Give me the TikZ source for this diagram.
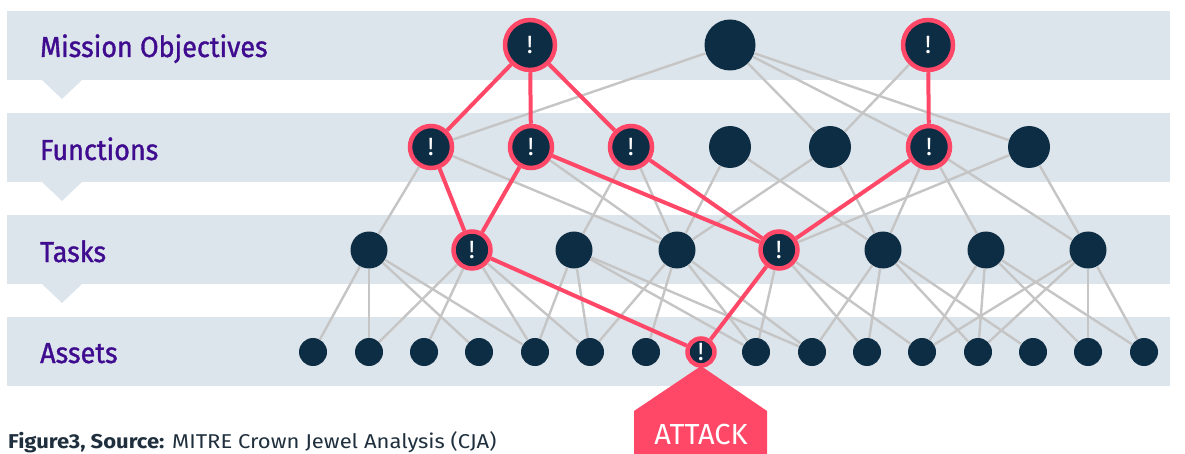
\documentclass[tikz,border=0pt]{standalone}
\usepackage{fontspec}
\setmainfont{Fira Sans}
\newfontfamily\levelfont[FakeStretch=0.93, FakeBold=1.2]{Fira Sans}
\newfontfamily\captionfont[FakeStretch=1.1]{Fira Sans}
\definecolor{bandc}{HTML}{DDE5EC}
\definecolor{nodec}{HTML}{0D2D45}
\definecolor{alertred}{HTML}{FF4868}
\definecolor{edgegray}{HTML}{C5C5C5}
\definecolor{levelpurple}{HTML}{3F0C8F}
\definecolor{captionc}{HTML}{1F2F3D}
\tikzset{
  band/.style={fill=bandc, draw=none},
  level/.style={anchor=base west, inner sep=0pt, text=levelpurple,
    font=\levelfont\fontsize{29}{30}\selectfont},
  dot/.style={circle, fill=nodec, draw=none, inner sep=0pt, text=white,
    font=\fontsize{25}{25}\selectfont},
  mdot/.style={dot, minimum size=50pt},
  fdot/.style={dot, minimum size=42pt},
  tdot/.style={dot, minimum size=37pt},
  adot/.style={dot, minimum size=28pt},
  alert/.style={draw=alertred, line width=4.5pt},
  link/.style={draw=edgegray, line width=2.4pt},
  hot/.style={draw=alertred, line width=4pt},
}
\begin{document}
\begin{tikzpicture}[x=1pt, y=-1pt]
\useasboundingbox (0,0) rectangle (1185,454);

% level bands with their pointers
\foreach \top in {11,113,215,317} {
  \fill[bandc] (7,\top) rectangle (1170,\top+69);
}
\foreach \bot in {80,182,284} {
  \fill[bandc] (42,\bot) -- (82,\bot) -- (62,\bot+19) -- cycle;
}

% level names
\node[level] (lmo) at (40,57) {Mission Objectives};
\node[level] (lfn) at (40,160) {Functions};
\node[level] (ltk) at (40,262) {Tasks};
\node[level] (las) at (40,363) {Assets};

% attack marker
\fill[alertred] (701,366) -- (767,411) -- (767,454) -- (634,454) -- (634,411) -- cycle;
\node[text=white, font=\fontsize{29}{30}\selectfont, anchor=base] (atk) at (701,444) {ATTACK};

% mission objectives
\node[mdot, alert] (m1) at (530,45) {!};
\node[mdot, minimum size=51pt] (m2) at (730,45) {};
\node[mdot, alert] (m3) at (928,45) {!};

% functions
\node[fdot, alert] (f1) at (431,147) {!};
\node[fdot, alert] (f2) at (531,147) {!};
\node[fdot, alert] (f3) at (631,147) {!};
\node[fdot] (f4) at (730,147) {};
\node[fdot] (f5) at (830,147) {};
\node[fdot, alert] (f6) at (929,147) {!};
\node[fdot] (f7) at (1029,147) {};

% tasks
\node[tdot] (t1) at (369,250) {};
\node[tdot, alert] (t2) at (472,250) {!};
\node[tdot] (t3) at (574,250) {};
\node[tdot] (t4) at (677,250) {};
\node[tdot, alert] (t5) at (779,250) {!};
\node[tdot] (t6) at (883,250) {};
\node[tdot] (t7) at (986,250) {};
\node[tdot] (t8) at (1088,250) {};

% assets
\foreach \i/\x in {1/313,2/369,3/424,4/479,5/535,6/590,7/646,9/756,10/812,
                   11/867,12/922,13/978,14/1033,15/1088,16/1144} {
  \node[adot] (a\i) at (\x,352) {};
}
\node[adot, minimum size=27pt, alert] (a8) at (701,352) {!};

% dependencies
\foreach \p/\q in {m2/f1,m2/f5,m2/f6,m2/f7,m3/f5,
    f1/t1,f1/t4,f2/t4,f3/t3,f3/t4,f4/t4,f4/t6,f5/t4,f5/t6,
    f6/t6,f6/t7,f6/t8,f7/t5,f7/t8,
    t1/a1,t1/a2,t1/a4,t1/a5,t2/a2,t2/a3,t2/a5,t2/a6,
    t3/a5,t3/a6,t3/a9,t3/a10,t4/a6,t4/a7,t4/a9,t4/a10,
    t5/a9,t5/a11,t5/a12,t6/a10,t6/a11,t6/a13,t6/a14,
    t7/a12,t7/a13,t7/a15,t7/a16,t8/a12,t8/a13,t8/a15,t8/a16} {
  \draw[link] (\p) -- (\q);
}

% attack path
\foreach \p/\q in {m1/f1,m1/f2,m1/f3,m3/f6,
    f1/t2,f2/t2,f2/t5,f3/t5,f6/t5,t2/a8,t5/a8} {
  \draw[hot] (\p) -- (\q);
}

% caption
\node[anchor=base west, inner sep=0pt, text=captionc,
  font=\captionfont\fontsize{20}{22}\selectfont] (cap) at (8,448)
  {\textbf{Figure3, Source:} MITRE Crown Jewel Analysis (CJA)};
\end{tikzpicture}
\end{document}
